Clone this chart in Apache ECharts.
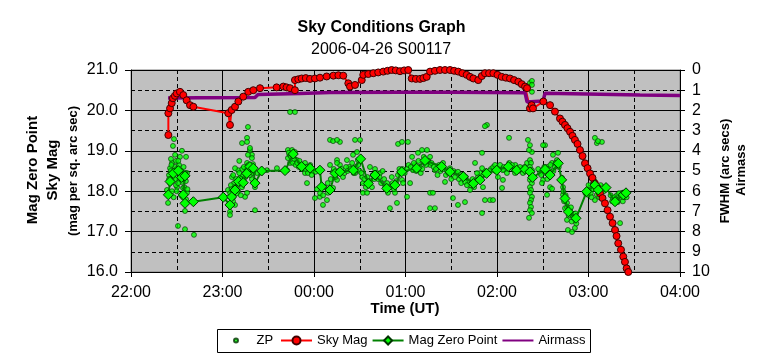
<!DOCTYPE html>
<html><head><meta charset="utf-8">
<script src="https://cdn.jsdelivr.net/npm/echarts@6/dist/echarts.min.js"></script>
<style>html,body{margin:0;padding:0;background:#fff}#c{width:763px;height:358px}</style>
</head><body><div id="c"></div>
<script>
const FONT = 'Liberation Sans, Arial, sans-serif';
// x values are minutes after 22:00 UT
const xTickLabels = ['22:00','23:00','00:00','01:00','02:00','03:00','04:00'];
const zpPoints = [
[28.2,19.29],[27.5,19.12],[32.1,18.85],[36.1,18.85],[26.9,18.70],[28.9,18.60],[25.6,18.57],[30.8,18.48],[27.5,18.35],[33.4,18.23],[25.6,18.20],[23.6,18.03],[34.1,18.08],[36.7,17.96],[24.3,17.71],[35.4,17.51],[30.8,17.14],[35.4,17.06],[41.3,16.92],[30.2,18.10],[36.7,18.45],[26.9,18.00],[29.5,18.75],[31.5,18.30],[34.5,18.60],[24.9,18.40],[32.8,17.90],[36.1,17.80],[28.9,18.90],[33.4,19.00],[29.5,18.15],[31.5,18.65],[26.2,18.80],
[25,18.3],[26,18.5],[27,18.25],[28,18.45],[29,18.3],[30,18.55],[31,18.2],[32,18.4],[33,18.5],[34,18.35],[35,18.1],[36,18.25],[37,18.05],[26.5,18.65],[30,18.0],[34,17.85],[28,17.85],[31,18.75],[35.5,18.45],
[76.7,19.59],[76.1,19.32],[72.8,19.19],[76.1,19.22],[78.0,19.02],[79.3,18.90],[78.0,19.07],[76.7,18.90],[79.3,18.82],[76.1,18.70],[74.8,18.57],[80.0,18.67],[70.2,18.52],[68.2,18.57],[66.2,18.35],[71.5,18.33],[63.6,18.03],[64.9,17.86],[64.9,17.49],[64.9,17.41],[68.2,17.66],[74.8,17.86],[76.1,17.96],[81.3,17.53],[81.3,18.20],[81.3,18.10],[82.6,18.45],[89.2,18.52],[95.7,18.57],[102.3,18.52],[72.8,18.10],[70.2,18.00],[67.5,18.20],[73.5,18.40],[77.4,18.45],[79.3,18.30],[66.9,17.75],[69.5,17.95],[104.3,19.96],[107.5,19.96],[65.5,18.15],[71.0,18.75],[74.0,18.25],
[65,17.95],[66,18.05],[67,17.85],[68,18.1],[69,18.3],[70,18.15],[71,18.45],[72,18.3],[73,18.55],[74,18.6],[75,18.35],[76,18.5],[77,18.65],[78,18.4],[79,18.55],[80,18.45],[67,18.4],[72,17.9],
[102.9,19.02],[105.6,19.02],[107.5,18.97],[102.9,18.82],[104.3,18.70],[106.2,18.70],[108.8,18.77],[114.1,18.70],[115.4,18.60],[117.4,18.52],[114.1,18.45],[115.4,18.20],[120.6,17.83],[123.9,17.86],[125.9,17.66],[128.5,17.78],[129.2,17.96],[132.5,18.08],[135.1,18.28],[135.1,18.77],[137.0,18.65],[130.5,19.27],[137.0,19.22],[146.9,19.27],[150.2,19.27],[132.5,19.24],[135.1,19.27],[104.0,18.90],[110.0,18.60],[112.0,18.55],[119.0,18.50],[121.0,18.48],
[103.5,18.95],[105,18.85],[106,18.9],[107,18.8],[108,18.65],[109,18.7],[110.5,18.75],[111.5,18.65],[113,18.6],[114.5,18.55],[116,18.45],[117.5,18.65],[118.5,18.4],
[130.5,18.65],[135.1,18.70],[132.5,18.48],[139.0,18.35],[141.6,18.77],[145.6,18.90],[148.2,18.97],[148.8,18.77],[151.5,18.35],[152.1,18.20],[152.1,17.96],[154.8,17.96],[156.7,18.60],[158.0,18.10],[163.3,18.45],[166.5,18.15],[168.5,17.96],[169.8,17.58],[173.1,17.96],[174.4,17.71],[177.7,18.28],[178.4,18.20],[181.0,17.86],[183.0,18.20],[184.3,18.85],[184.9,18.52],[188.2,18.95],[190.8,19.02],[194.1,19.02],[196.1,18.85],[196.1,18.65],[199.3,18.52],[196.1,17.96],[198.0,17.96],[196.1,17.58],[199.3,17.58],[175.1,19.17],[177.7,19.22],[181.6,19.22],[143.0,18.60],[147.0,18.45],[160.0,18.55],[162.0,18.30],[165.0,18.50],[171.0,18.35],[176.0,18.55],[186.0,18.65],[190.0,18.45],[192.5,18.70],
[122,18.05],[124,17.95],[126,17.9],[127,18.1],[129,18.2],[131,18.3],[133,18.55],[134,18.35],[136,18.5],[138,18.55],[140,18.45],[141,18.6],[142,18.5],[144,18.55],[145,18.7],[146,18.45],[147.5,18.6],[149,18.65],[150,18.5],[151,18.45],[153,18.3],[154,18.1],[155,18.35],[157,18.25],[158.5,18.4],[159.5,18.3],[161,18.45],[163,18.35],[164,18.2],[166,18.3],[167,18.05],[168,18.2],[170,18.1],[171.5,18.2],[172.5,18.05],[174,18.25],[175,18.4],[176.5,18.45],[178,18.55],[179.5,18.45],[181,18.55],[182,18.65],[183.5,18.6],[185.5,18.7],[187,18.5],[188.5,18.75],[189.5,18.6],[191,18.55],[192,18.85],[193.5,18.65],[195,18.75],[197,18.7],[198.5,18.6],[200,18.55],
[202,18.65],[203,18.5],[205,18.55],[206.5,18.4],[208,18.45],[210,18.3],[211.5,18.5],[213,18.45],[215,18.3],[216.5,18.2],[218,18.4],[219.5,18.35],[221,18.25],[222.5,18.15],[224,18.3],[225,18.1],[226,18.25],[227.5,18.35],[229,18.45],[231,18.4],[232.5,18.5],[234,18.45],[236,18.55],[237.5,18.6],[239,18.5],[241,18.55],[242,18.65],[244.5,18.6],[246,18.55],[248,18.7],[250.5,18.55],[252,18.65],[254,18.5],[256,18.55],[258,18.6],[259,18.5],
[204.6,18.70],[207.2,18.52],[205.9,18.23],[209.2,18.57],[212.4,18.35],[211.1,17.83],[214.4,17.66],[214.4,18.48],[219.0,18.23],[220.3,18.15],[222.3,18.03],[219.0,17.73],[225.6,18.70],[226.9,18.45],[230.2,18.57],[230.8,18.10],[232.1,17.78],[235.4,17.78],[237.4,17.78],[230.2,17.46],[238.7,18.65],[240.6,18.35],[243.9,18.28],[243.9,18.52],[243.3,18.08],[249.8,18.65],[251.8,18.45],[255.1,18.60],[257.0,18.45],[259.7,18.70],[233.4,19.64],[232.1,19.61],[247.9,19.32],[230.2,18.95],[216.0,18.40],[228.0,18.30],[235.0,18.50],[246.5,18.45],[253.0,18.55],[201.0,18.40],
[261.6,18.77],[262.3,18.70],[261.6,18.60],[262.9,18.52],[261.6,18.45],[262.3,18.35],[261.6,18.28],[262.9,18.20],[261.6,18.10],[262.3,18.03],[261.6,17.96],[262.9,17.86],[262.3,17.78],[261.6,17.71],[262.3,17.61],[261.6,17.53],[261.0,17.34],[262.9,17.46],[261.6,20.68],[262.9,20.73],[262.9,20.63],[262.9,20.46],[260.3,19.27],[261.6,19.14],[262.9,18.97],[261.0,19.02],[271.5,19.14],[270.2,19.14],
[268.2,18.45],[270.2,18.28],[273.4,18.48],[272.8,17.91],[270.2,18.52],[272.8,18.60],[276.1,18.70],[278.0,18.60],[279.3,18.77],[274.8,18.40],[274.8,18.10],[276.7,18.90],[280.0,18.95],[282.6,18.33],[283.3,18.10],[283.3,17.91],[285.9,17.71],[284.6,17.58],[287.9,17.53],[289.2,17.41],[292.4,17.34],[291.1,17.29],[285.9,17.29],[286.5,17.04],[289.2,16.99],[291.1,17.09],[276.1,18.06],
[267,18.55],[269,18.4],[271,18.6],[272,18.45],[274,18.55],[275,18.65],[277,18.5],[278.5,18.7],[280.5,18.6],[269.5,18.2],[273,18.3],
[283.5,18.0],[284,17.75],[285,17.9],[286,17.6],[287,17.4],[288,17.45],[289,17.25],[290,17.35],[291.5,17.45],[292,17.2],[288.5,17.6],
[299.0,18.03],[301.0,18.08],[302.9,18.20],[299.7,17.91],[305.5,17.91],[307.5,18.03],[309.4,18.10],[304.2,17.78],[305.5,19.19],[308.8,19.22],[304.2,19.32],[306.2,19.24],[316.0,17.83],[317.3,17.71],[319.2,17.73],[322.0,17.96],[324.6,17.98],[320.7,17.21],[318.6,17.90],[323.3,17.85],
[298,17.95],[300,18.15],[301.5,17.95],[303,18.05],[304,18.25],[306,18.1],[308,18.15],[310,18.0],[311,18.05],[302,17.85],[307,17.85],
[314.5,17.9],[315.5,17.75],[317,17.85],[318,17.8],[320,17.95],[321,17.85],[322.5,17.75],[324,17.9],[325,17.85]
];
const skyMag = [
[24.5,19.39],[24.5,19.93],[25.6,20.05],[26.7,20.18],[27.5,20.30],[28.8,20.36],[30.0,20.42],[32.1,20.46],[34.3,20.38],[36.5,20.25],[38.7,20.13],[40.9,20.09],[63.8,19.93],[64.9,19.64],[66.0,20.01],[68.2,20.09],[70.4,20.22],[73.6,20.34],[76.9,20.46],[80.2,20.50],[84.6,20.55],[95.5,20.57],[99.9,20.59],[102.0,20.57],[104.3,20.55],[107.5,20.50],[107.5,20.75],[109.7,20.77],[111.9,20.79],[114.6,20.80],[117.4,20.78],[120.6,20.79],[123.9,20.81],[128.3,20.84],[132.7,20.86],[136.0,20.87],[139.2,20.86],[142.5,20.67],[143.6,20.59],[146.9,20.63],[151.3,20.75],[152.3,20.88],[155.6,20.90],[158.9,20.92],[162.1,20.94],[165.4,20.96],[168.2,20.98],[170.9,21.0],[173.6,20.99],[176.4,20.97],[179.1,20.99],[181.8,21.0],[184.1,20.79],[186.8,20.78],[189.5,20.78],[191.7,20.80],[193.9,20.83],[196.1,20.96],[199.3,20.98],[202.6,21.0],[205.9,21.0],[209.2,21.0],[211.9,20.98],[214.6,20.96],[217.3,20.92],[220.1,20.88],[222.3,20.83],[224.5,20.79],[227.7,20.75],[230.0,20.85],[232.1,20.92],[234.8,20.92],[237.6,20.92],[240.3,20.88],[243.1,20.83],[245.8,20.81],[248.5,20.79],[251.2,20.75],[254.0,20.71],[256.2,20.65],[258.4,20.59],[259.7,20.55],[261.6,20.05],[262.7,20.13],[263.6,20.05],[270.4,20.22],[274.8,20.13],[278.0,19.97],[281.3,19.80],[282.9,19.72],[284.6,19.64],[286.2,19.56],[287.9,19.47],[289.5,19.37],[291.1,19.27],[292.8,19.17],[294.4,19.02],[296.1,18.87],[297.7,18.69],[299.4,18.57],[301.0,18.44],[302.6,18.33],[304.2,18.19],[305.9,18.08],[307.5,17.95],[309.2,17.83],[310.8,17.70],[312.5,17.53],[314.1,17.37],[315.8,17.21],[317.4,17.04],[318.4,16.89],[319.5,16.71],[321.3,16.55],[322.8,16.38],[323.9,16.25],[325.0,16.09],[326.1,16.0]
];
const magZeroPoint = [
[24.5,17.91],[25.6,18.24],[27.7,18.44],[31.0,18.51],[33.2,18.34],[35.4,18.38],[34.3,17.91],[35.4,17.70],[40.9,17.74],[60.5,17.85],[64.9,17.66],[66.0,17.86],[68.2,18.03],[70.4,18.24],[73.6,18.21],[75.9,18.44],[78.0,18.61],[80.2,18.57],[81.3,18.20],[85.7,18.50],[101.0,18.51],[106.4,18.92],[111.9,18.61],[117.4,18.57],[123.9,18.52],[125.0,18.11],[130.5,18.03],[133.8,18.44],[137.0,18.48],[145.8,18.52],[150.6,18.80],[155.6,18.19],[160.0,18.40],[167.7,18.07],[173.1,18.15],[177.5,18.48],[187.3,18.57],[192.8,18.76],[203.7,18.61],[209.2,18.48],[217.9,18.36],[224.5,18.19],[228.9,18.28],[233.2,18.44],[239.8,18.52],[247.4,18.61],[252.9,18.52],[258.4,18.54],[261.6,18.48],[263.4,18.34],[271.5,18.54],[274.8,18.40],[280.2,18.69],[282.4,18.28],[284.6,17.82],[286.8,17.49],[291.8,17.33],[298.8,17.99],[304.2,18.15],[306.4,18.03],[311.5,18.09],[317.4,17.74],[322.8,17.91],[324.6,17.96]
];
const airmass = [
[24.3,1.39],[45.2,1.37],[81.3,1.36],[83.3,1.21],[110.8,1.16],[130.5,1.11],[176.4,1.10],[209.2,1.10],[258.4,1.13],[259.7,1.58],[270.2,1.53],[271.5,1.15],[307.5,1.20],[333.8,1.24],[360.0,1.26]
];

const chart = echarts.init(document.getElementById('c'), null, {renderer:'canvas'});
const axisText = {fontSize:16, color:'#000', fontFamily:FONT};
const nameText = (t, x, y, size) => ({type:'text', x:x, y:y, rotation:Math.PI/2,
  style:{text:t, fontSize:size, fontWeight:'bold', fontFamily:FONT, fill:'#000', align:'center', verticalAlign:'middle'}});
chart.setOption({
  animation:false,
  backgroundColor:'#fff',
  title:[
    {text:'Sky Conditions Graph', left:'center', top:15, textStyle:{fontSize:16, fontWeight:'bold', color:'#000', fontFamily:FONT}},
    {text:'2006-04-26 S00117', left:306, top:37, textStyle:{fontSize:16, fontWeight:'normal', color:'#000', fontFamily:FONT}}
  ],
  grid:{left:131, right:83, top:70, bottom:86, show:true, backgroundColor:'#c0c0c0', borderColor:'#808080', borderWidth:1},
  xAxis:{type:'value', min:0, max:360, interval:60,
    axisLine:{show:true, onZero:false, lineStyle:{color:'#000', width:1}},
    axisTick:{show:true, length:5, lineStyle:{color:'#000'}},
    axisLabel:{...axisText, margin:13, formatter:(v)=>xTickLabels[Math.round(v/60)]},
    splitLine:{show:true, lineStyle:{color:'#000', width:1}},
    minorTick:{show:false, splitNumber:2},
    minorSplitLine:{show:true, lineStyle:{color:'#000', width:1, type:[4,3]}}
  },
  yAxis:[
    {type:'value', position:'left', min:16, max:21, interval:1,
      axisLine:{show:true, onZero:false, lineStyle:{color:'#000'}},
      axisTick:{show:true, length:6, lineStyle:{color:'#000'}},
      axisLabel:{...axisText, margin:13, formatter:(v)=>v.toFixed(1)},
      splitLine:{show:true, lineStyle:{color:'#000', width:1}},
      minorTick:{show:false, splitNumber:2},
      minorSplitLine:{show:true, lineStyle:{color:'#000', width:1, type:[4,3]}}
    },
    {type:'value', position:'right', min:0, max:10, interval:1, inverse:true,
      axisLine:{show:true, onZero:false, lineStyle:{color:'#000'}},
      axisTick:{show:true, length:5, lineStyle:{color:'#000'}},
      axisLabel:{...axisText, margin:12},
      splitLine:{show:false}
    }
  ],
  legend:[
    {data:['ZP'], left:233, top:334, padding:0, itemWidth:31, itemHeight:4,
      textStyle:{fontSize:13, color:'#000', fontFamily:FONT}},
    {data:['Sky Mag','Mag Zero Point',{name:'Airmass', itemStyle:{opacity:0}}], left:280, top:334, padding:0,
      itemWidth:31, itemHeight:10, itemGap:4, textStyle:{fontSize:13, color:'#000', fontFamily:FONT}}
  ],
  graphic:[
    {type:'rect', shape:{x:217.5, y:329.5, width:373, height:23}, style:{fill:'none', stroke:'#000', lineWidth:1}, silent:true},
    nameText('Mag Zero Point', 33, 170, 15),
    nameText('Sky Mag', 53, 170, 15),
    nameText('(mag per sq. arc sec)', 73, 171, 13),
    nameText('FWHM (arc secs)', 725, 171, 13),
    nameText('Airmass', 741, 170, 13),
    {type:'text', x:405, y:309, style:{text:'Time (UT)', fontSize:15, fontWeight:'bold', fontFamily:FONT, fill:'#000', align:'center', verticalAlign:'middle'}}
  ],
  series:[
    {name:'ZP', type:'scatter', yAxisIndex:0, data:zpPoints, symbol:'circle', symbolSize:5,
      itemStyle:{color:'#00ff00', borderColor:'#003300', borderWidth:0.8}},
    {name:'Sky Mag', type:'line', yAxisIndex:0, data:skyMag, symbol:'circle', symbolSize:7, showAllSymbol:true,
      lineStyle:{color:'#ff0000', width:2}, itemStyle:{color:'#ff0000', borderColor:'#400000', borderWidth:1}},
    {name:'Mag Zero Point', type:'line', yAxisIndex:0, data:magZeroPoint, symbol:'diamond', symbolSize:10, showAllSymbol:true,
      lineStyle:{color:'#008000', width:2}, itemStyle:{color:'#00ff00', borderColor:'#003300', borderWidth:1}},
    {name:'Airmass', type:'line', yAxisIndex:1, data:airmass, symbol:'none',
      lineStyle:{color:'#800080', width:3.5}, itemStyle:{color:'#800080'}}
  ]
});
</script></body></html>
